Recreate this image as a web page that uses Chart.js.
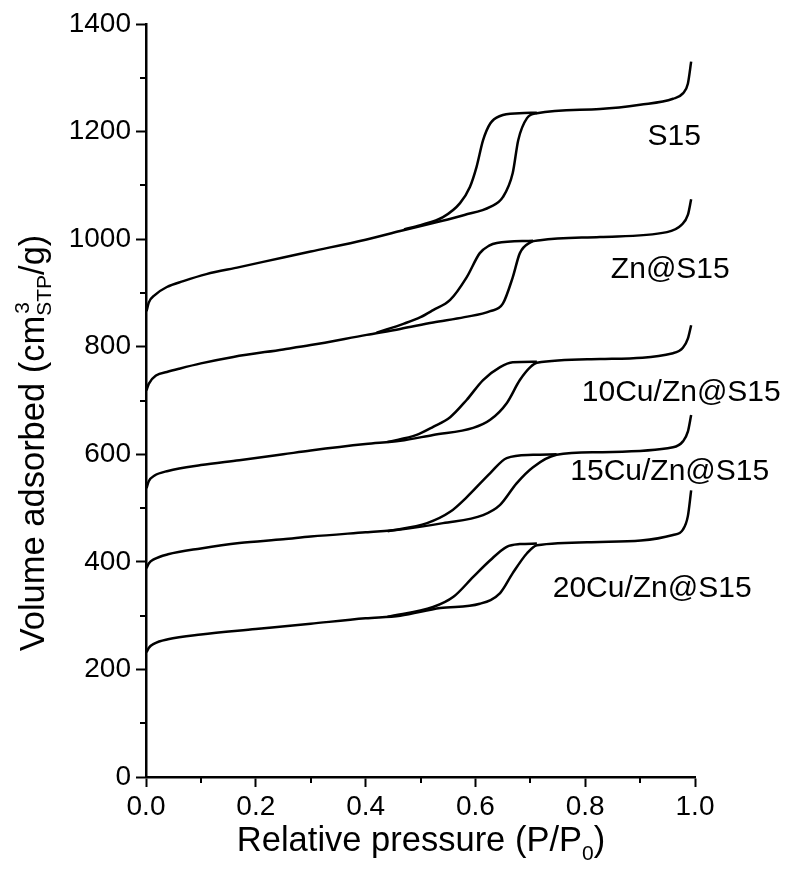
<!DOCTYPE html>
<html>
<head>
<meta charset="utf-8">
<script src="https://cdn.jsdelivr.net/npm/chart.js@4"></script>
<style>
  body { margin: 0; background: #fff; }
  canvas { display: block; }
</style>
</head>
<body>
<canvas id="myChart" width="788" height="879"></canvas>
<script>
// isotherm branches: [P/P0, volume]
const s15Ads = [[0.001,866],[0.005,882],[0.016,896],[0.038,911],[0.068,922],[0.11,935],[0.17,948],[0.25,966],[0.3,977],[0.4,999],[0.463,1015],[0.523,1030],[0.58,1045],[0.627,1060],[0.65,1078],[0.668,1123],[0.678,1184],[0.694,1225],[0.712,1234],[0.827,1242],[0.9,1250],[0.96,1261],[0.978,1271],[0.987,1289],[0.993,1330]];
const s15Des = [[0.47,1018],[0.5,1026],[0.541,1041],[0.572,1067],[0.59,1097],[0.602,1134],[0.614,1184],[0.627,1215],[0.645,1229],[0.68,1234],[0.712,1235]];

const znAds = [[0.001,719],[0.005,731],[0.019,747],[0.038,753],[0.06,759],[0.1,769],[0.159,781],[0.25,795],[0.3,803],[0.402,822],[0.463,833],[0.523,845],[0.58,855],[0.627,866],[0.65,880],[0.668,929],[0.681,974],[0.7,994],[0.718,998],[0.827,1004],[0.949,1013],[0.975,1026],[0.987,1045],[0.993,1074]];
const znDes = [[0.42,826],[0.47,843],[0.5,855],[0.523,868],[0.554,887],[0.584,929],[0.608,974],[0.625,988],[0.639,993],[0.705,997]];

const cu10Ads = [[0.001,537],[0.005,550],[0.015,560],[0.04,569],[0.1,580],[0.17,589],[0.25,600],[0.3,607],[0.4,619],[0.463,625],[0.523,636],[0.596,649],[0.627,664],[0.657,695],[0.681,738],[0.7,762],[0.712,770],[0.827,777],[0.96,788],[0.978,798],[0.987,815],[0.993,840]];
const cu10Des = [[0.44,623],[0.493,636],[0.523,651],[0.554,669],[0.584,701],[0.614,738],[0.645,762],[0.668,771],[0.712,772]];

const cu15Ads = [[0.001,388],[0.005,397],[0.015,405],[0.04,414],[0.1,425],[0.17,435],[0.25,442],[0.3,447],[0.4,455],[0.463,460],[0.541,472],[0.614,487],[0.645,506],[0.675,546],[0.705,576],[0.748,599],[0.827,604],[0.96,613],[0.978,624],[0.987,642],[0.993,673]];
const cu15Des = [[0.44,457],[0.512,472],[0.554,493],[0.584,520],[0.627,565],[0.657,593],[0.705,599],[0.748,600]];

const cu20Ads = [[0.001,232],[0.005,240],[0.015,248],[0.04,256],[0.1,265],[0.2,275],[0.3,285],[0.4,295],[0.463,300],[0.536,314],[0.608,322],[0.645,342],[0.668,379],[0.694,416],[0.712,431],[0.827,437],[0.96,450],[0.978,460],[0.987,485],[0.993,533]];
const cu20Des = [[0.44,298],[0.523,316],[0.56,335],[0.596,372],[0.627,403],[0.657,428],[0.681,433],[0.712,434]];

const branches = [s15Ads, s15Des, znAds, znDes, cu10Ads, cu10Des, cu15Ads, cu15Des, cu20Ads, cu20Des];

const sampleNames = ['S15', 'Zn@S15', '10Cu/Zn@S15', '15Cu/Zn@S15', '20Cu/Zn@S15'];
const namePlaces = [[0.962, 1191], [0.955, 944], [0.975, 714], [0.954, 567], [0.922, 350]];

const xTicksMinor = [0.1, 0.3, 0.5, 0.7, 0.9];
const yTicksMinor = [100, 300, 500, 700, 900, 1100, 1300];

const FONT = '"Liberation Sans", Arial, sans-serif';

const extras = {
  id: 'extras',
  afterDraw(chart) {
    const c = chart.ctx;
    const xs = chart.scales.x, ys = chart.scales.y;
    const area = chart.chartArea;
    c.save();
    c.strokeStyle = '#000';
    c.fillStyle = '#000';
    c.lineWidth = 2;
    // minor ticks
    for (let v of xTicksMinor) {
      let px = Math.round(xs.getPixelForValue(v));
      c.beginPath(); c.moveTo(px, area.bottom); c.lineTo(px, area.bottom + 6); c.stroke();
    }
    for (let v of yTicksMinor) {
      let py = Math.round(ys.getPixelForValue(v));
      c.beginPath(); c.moveTo(area.left, py); c.lineTo(area.left - 6, py); c.stroke();
    }
    // sample names
    c.font = '30px ' + FONT;
    c.textAlign = 'center';
    c.textBaseline = 'middle';
    sampleNames.forEach((name, i) => {
      c.fillText(name, xs.getPixelForValue(namePlaces[i][0]), ys.getPixelForValue(namePlaces[i][1]));
    });

    // x title: Relative pressure (P/P0)
    c.textAlign = 'left';
    c.textBaseline = 'alphabetic';
    let big = '34.5px ' + FONT, small = '21px ' + FONT;
    c.font = big;
    let a = 'Relative pressure (P/P', b = ')';
    let wa = c.measureText(a).width, wb = c.measureText(b).width;
    c.font = small;
    let w0 = c.measureText('0').width;
    let total = wa + w0 + wb;
    let x0 = 421 - total / 2, base = 851;
    c.font = big; c.fillText(a, x0, base);
    c.font = small; c.fillText('0', x0 + wa, base + 9);
    c.font = big; c.fillText(b, x0 + wa + w0, base);

    // y title: Volume adsorbed (cm3STP/g)
    c.translate(44, 443);
    c.rotate(-Math.PI / 2);
    c.font = big;
    let p1 = 'Volume adsorbed (cm', p2 = '/g)';
    let w1 = c.measureText(p1).width, w2 = c.measureText(p2).width;
    c.font = small;
    let wSub = c.measureText('STP').width;
    total = w1 + wSub + w2;
    let y0 = -total / 2;
    c.font = big; c.fillText(p1, y0, 0);
    c.font = small;
    c.fillText('3', y0 + w1 + 2, -15);
    c.fillText('STP', y0 + w1, 7);
    c.font = big; c.fillText(p2, y0 + w1 + wSub, 0);
    c.restore();
  }
};

new Chart(document.getElementById('myChart'), {
  type: 'scatter',
  data: {
    datasets: branches.map(br => ({
      data: br.map(p => ({x: p[0], y: p[1]})),
      showLine: true,
      borderColor: '#000',
      borderWidth: 2.5,
      pointRadius: 0,
      cubicInterpolationMode: 'monotone',
    })),
  },
  options: {
    responsive: false,
    animation: false,
    devicePixelRatio: 1,
    layout: { padding: { left: 0, top: 24, right: 93, bottom: 0 } },
    plugins: { legend: { display: false }, tooltip: { enabled: false } },
    scales: {
      x: {
        type: 'linear',
        min: 0, max: 1,
        afterFit: s => { s.height = 102; },
        border: { display: true, color: '#000', width: 2.5 },
        grid: { drawOnChartArea: false, drawTicks: true, tickLength: 10, tickWidth: 2, color: '#000' },
        ticks: {
          stepSize: 0.2,
          color: '#000',
          padding: 3,
          maxRotation: 0,
          font: { family: FONT, size: 28 },
          callback: v => v.toFixed(1),
        },
      },
      y: {
        min: 0, max: 1400,
        afterFit: s => { s.width = 146; },
        border: { display: true, color: '#000', width: 2.5 },
        grid: { drawOnChartArea: false, drawTicks: true, tickLength: 10, tickWidth: 2, color: '#000' },
        ticks: {
          stepSize: 200,
          color: '#000',
          padding: 5,
          font: { family: FONT, size: 28 },
          callback: v => String(v),
        },
      },
    },
  },
  plugins: [extras],
});
</script>
</body>
</html>
